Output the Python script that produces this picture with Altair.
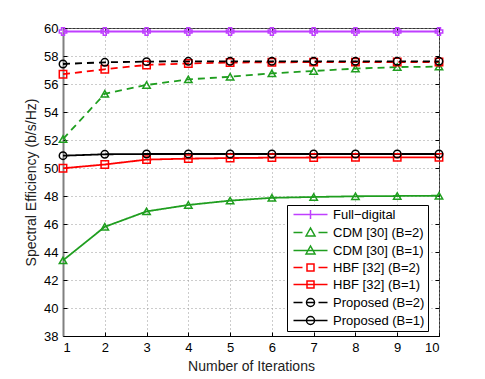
import altair as alt
import pandas as pd

iters = [1, 2, 3, 4, 5, 6, 7, 8, 9, 10]
full_digital = [59.75, 59.75, 59.75, 59.75, 59.75, 59.75, 59.75, 59.75, 59.75, 59.75]
cdm_b2 = [52.07, 55.3, 55.93, 56.33, 56.52, 56.76, 56.93, 57.1, 57.21, 57.24]
cdm_b1 = [43.4, 45.8, 46.9, 47.36, 47.67, 47.87, 47.93, 47.98, 48.0, 48.02]
hbf_b2 = [56.7, 57.05, 57.36, 57.47, 57.53, 57.55, 57.56, 57.56, 57.57, 57.57]
hbf_b1 = [49.98, 50.25, 50.6, 50.67, 50.71, 50.74, 50.75, 50.76, 50.76, 50.76]
prop_b2 = [57.43, 57.55, 57.6, 57.62, 57.62, 57.62, 57.62, 57.62, 57.62, 57.62]
prop_b1 = [50.88, 50.98, 51.0, 51.0, 51.0, 51.0, 51.0, 51.0, 51.0, 51.0]

series_names = ["Full\u2212digital", "CDM [30] (B=2)", "CDM [30] (B=1)",
                "HBF [32] (B=2)", "HBF [32] (B=1)", "Proposed (B=2)", "Proposed (B=1)"]
series_values = [full_digital, cdm_b2, cdm_b1, hbf_b2, hbf_b1, prop_b2, prop_b1]
colors = ["#bf3fff", "#1f9e1f", "#1f9e1f", "#ff0000", "#ff0000", "#000000", "#000000"]
dash_styles = ["solid", "dashed", "solid", "dashed", "solid", "dashed", "solid"]
point_shapes = ["cross", "triangle-up", "triangle-up", "square", "square", "circle", "circle"]
y_ticks = [38, 40, 42, 44, 46, 48, 50, 52, 54, 56, 58, 60]

# legend glyphs (line + marker), in symbol units
tri = "M1.9,0.7L2.8,-0.9L3.7,0.7Z"
sq = "M2.1,-0.7H3.5V0.7H2.1Z"
circ = "M3.6,0A0.8,0.8 0 1,1 2.0,0A0.8,0.8 0 1,1 3.6,0Z"
dash_line = "M-0.6,0H1.2M4.4,0H6.2"
dash_line_c = "M-0.6,0H1.2M2.0,0H3.6M4.4,0H6.2"
solid_line = "M-0.6,0H6.2"
legend_paths = [
    solid_line + "M2.8,-0.9V0.9",
    dash_line + tri,
    solid_line + tri,
    dash_line + sq,
    solid_line + sq,
    dash_line_c + circ,
    solid_line + circ,
]

rows = []
for name, vals, shp, ds in zip(series_names, series_values, point_shapes, dash_styles):
    for it, v in zip(iters, vals):
        rows.append({"iter": it, "se": v, "series": name, "marker": shp, "style": ds})
df = pd.DataFrame(rows)

font = "Liberation Sans"
x_scale = alt.Scale(domain=[1, 10], nice=False)
y_scale = alt.Scale(domain=[38, 60], nice=False)


def xe(axis):
    return alt.X("iter:Q", scale=x_scale, axis=axis)


def ye(axis):
    return alt.Y("se:Q", scale=y_scale, axis=axis)


main_x_axis = alt.Axis(values=iters, title="Number of Iterations", grid=True, tickSize=0)
main_y_axis = alt.Axis(values=y_ticks, title="Spectral Efficiency (b/s/Hz)", grid=True, tickSize=0)


def tick_axis(orient, vals):
    return alt.Axis(orient=orient, values=vals, labels=False, domain=False, grid=False,
                    tickSize=4, offset=-4, title=None, tickColor="#000000", tickWidth=1)


color_scale = alt.Scale(domain=series_names, range=colors)
base = alt.Chart(df)

legend_layer = base.transform_filter("false").mark_point(filled=False, strokeWidth=1.5, opacity=1).encode(
    x=xe(None), y=ye(None),
    color=alt.Color("series:N", scale=color_scale,
                    legend=alt.Legend(orient="none", legendX=224, legendY=177, title=None,
                                      strokeColor="#000000", fillColor="#ffffff",
                                      padding=3, labelFont=font, labelFontSize=13,
                                      labelColor="#000000", symbolSize=100,
                                      symbolStrokeWidth=1.5, rowPadding=3,
                                      symbolOpacity=1,
                                      labelOffset=30, symbolFillColor="transparent")),
    shape=alt.Shape("series:N", scale=alt.Scale(domain=series_names, range=legend_paths)),
)

lines = base.mark_line(strokeWidth=1.8).encode(
    x=xe(main_x_axis), y=ye(main_y_axis),
    color=alt.Color("series:N", scale=color_scale, legend=None),
    detail="series:N",
    strokeDash=alt.StrokeDash("style:N", scale=alt.Scale(domain=["solid", "dashed"], range=[[1, 0], [7, 5]]),
                              legend=None),
)

point_layers = []
for shp in ["cross", "triangle-up", "square", "circle"]:
    point_layers.append(
        base.transform_filter(alt.datum.marker == shp).mark_point(
            shape=shp, filled=False, strokeWidth=1.5, size=55, opacity=1
        ).encode(
            x=xe(None), y=ye(None),
            color=alt.Color("series:N", scale=color_scale, legend=None),
        )
    )

ticks_lb = base.transform_filter("false").mark_point().encode(
    x=xe(tick_axis("bottom", iters)), y=ye(tick_axis("left", y_ticks)),
)
ticks_rt = base.transform_filter("false").mark_point().encode(
    x=xe(tick_axis("top", iters)), y=ye(tick_axis("right", y_ticks)),
)

chart = alt.layer(legend_layer, lines, *point_layers, ticks_lb, ticks_rt).resolve_axis(
    x="independent", y="independent"
).properties(
    width=376, height=308,
    autosize=alt.AutoSizeParams(type="none"),
    padding={"left": 55, "top": 20, "right": 30, "bottom": 38},
).configure_view(
    stroke="#333333", strokeWidth=1
).configure_axis(
    labelFont=font, titleFont=font, labelFontSize=13, titleFontSize=14,
    labelColor="#000000", titleColor="#222222", titleFontWeight="normal",
    gridColor="#999999", gridDash=[1, 3], gridWidth=1,
    labelPadding=5, domainColor="#000000",
).configure_axisY(
    domainColor="#808080", domainWidth=2, titlePadding=5
).configure_axisX(
    titlePadding=5
)

chart.save("out.html", embed_options={"renderer": "svg", "actions": False})
